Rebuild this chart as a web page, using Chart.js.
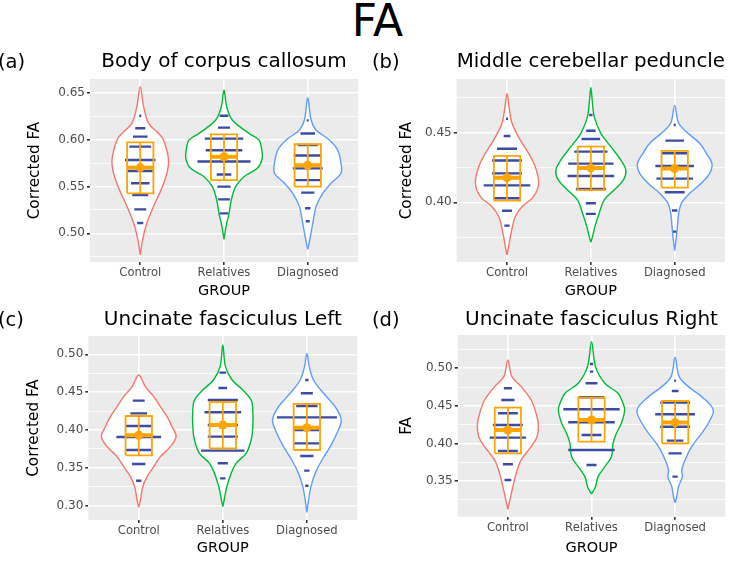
<!DOCTYPE html>
<html>
<head>
<meta charset="utf-8">
<script src="https://cdn.jsdelivr.net/npm/chart.js@4.4.1/dist/chart.umd.min.js"></script>
<style>
  body { margin: 0; background: #fff; font-family: 'DejaVu Sans', sans-serif; }
  #page { position: relative; width: 733px; height: 561px; overflow: hidden; }
  .panel { position: absolute; width: 366px; height: 260px; }
  .tag { position: absolute; font-size: 19.5px; line-height: 20px; color: #000; }
  #main { position: absolute; left: 0; top: -1px; width: 755px; text-align: center; font-size: 44px; line-height: 44px; }
</style>
</head>
<body>
<div id="page">
  <div id="main">FA</div>
  <div class="panel" style="left:0;top:40px"><canvas id="pa" width="366" height="260"></canvas></div>
  <div class="panel" style="left:366px;top:40px"><canvas id="pb" width="366" height="260"></canvas></div>
  <div class="panel" style="left:0;top:300px"><canvas id="pc" width="366" height="260"></canvas></div>
  <div class="panel" style="left:366px;top:300px"><canvas id="pd" width="366" height="260"></canvas></div>
  <div class="tag" style="left:-2px;top:52px">(a)</div>
  <div class="tag" style="left:372px;top:52px">(b)</div>
  <div class="tag" style="left:-2px;top:310px">(c)</div>
  <div class="tag" style="left:372px;top:310px">(d)</div>
</div>
<script>
const groups = ['Control', 'Relatives', 'Diagnosed'];
const groupColours = ['#F8766D', '#00BA38', '#619CFF'];

// (a) Body of corpus callosum
const ccTicks = [0.50, 0.55, 0.60, 0.65];
const ccViolinControl = [[0.477,0],[0.493,0.028],[0.511,0.079],[0.529,0.159],[0.546,0.246],[0.564,0.317],[0.579,0.337],[0.600,0.278],[0.607,0.218],[0.618,0.099],[0.636,0.040],[0.657,0]];
const ccViolinRelatives = [[0.4936,0],[0.507,0.024],[0.5215,0.06],[0.5357,0.087],[0.55,0.139],[0.5607,0.238],[0.5696,0.397],[0.5804,0.456],[0.5929,0.444],[0.600,0.417],[0.6071,0.298],[0.6214,0.099],[0.6357,0.032],[0.6536,0]];
const ccViolinDiagnosed = [[0.4829,0],[0.4929,0.024],[0.5107,0.06],[0.5286,0.099],[0.5429,0.179],[0.5536,0.278],[0.5643,0.397],[0.575,0.397],[0.5893,0.357],[0.600,0.258],[0.6107,0.099],[0.6214,0.04],[0.6454,0]];
const ccDotsControl = [[0.626,0.012],[0.6125,0.06],[0.6036,0.087],[0.5929,0.13],[0.5786,0.182],[0.5668,0.15],[0.5536,0.111],[0.5411,0.095],[0.5257,0.071],[0.511,0.036]];
const ccDotsRelatives = [[0.626,0.052],[0.6132,0.071],[0.6014,0.23],[0.589,0.218],[0.577,0.317],[0.563,0.087],[0.550,0.079],[0.5364,0.071],[0.5214,0.052]];
const ccDotsDiagnosed = [[0.621,0.012],[0.607,0.087],[0.5946,0.119],[0.5833,0.167],[0.5696,0.179],[0.557,0.159],[0.5436,0.079],[0.5268,0.032],[0.513,0.024]];
const ccBoxLow = [0.5429, 0.557, 0.55];
const ccBoxHigh = [0.5975, 0.606, 0.5954];
const ccMean = [0.5704, 0.582, 0.5729];

// (b) Middle cerebellar peduncle
const mcpTicks = [0.40, 0.45];
const mcpViolinControl = [[0.3623,0],[0.3683,0.02],[0.3778,0.048],[0.3898,0.099],[0.3969,0.179],[0.4041,0.317],[0.4137,0.377],[0.4256,0.337],[0.4352,0.258],[0.4447,0.159],[0.4567,0.06],[0.4686,0.024],[0.4782,0]];
const mcpViolinRelatives = [[0.3714,0],[0.3754,0.02],[0.3826,0.048],[0.3922,0.099],[0.4017,0.159],[0.4089,0.278],[0.4161,0.389],[0.4232,0.417],[0.4304,0.357],[0.44,0.238],[0.4495,0.119],[0.4615,0.04],[0.4734,0.016],[0.4825,0]];
const mcpViolinDiagnosed = [[0.3654,0],[0.373,0.016],[0.3826,0.032],[0.3922,0.048],[0.3993,0.079],[0.4065,0.179],[0.4137,0.317],[0.4208,0.417],[0.428,0.444],[0.4352,0.377],[0.4424,0.298],[0.4495,0.159],[0.4567,0.048],[0.4696,0]];
const mcpDotsControl = [[0.460,0.012],[0.4476,0.04],[0.4385,0.119],[0.430,0.179],[0.4208,0.179],[0.4122,0.278],[0.4029,0.159],[0.394,0.06],[0.3833,0.032]];
const mcpDotsRelatives = [[0.4627,0.02],[0.4514,0.056],[0.4455,0.111],[0.4364,0.198],[0.4278,0.27],[0.4189,0.278],[0.4096,0.179],[0.3993,0.06],[0.3917,0.06]];
const mcpDotsDiagnosed = [[0.4555,0.012],[0.4443,0.111],[0.4352,0.151],[0.4261,0.23],[0.417,0.218],[0.4072,0.119],[0.3941,0.032],[0.379,0.02]];
const mcpBoxLow = [0.4012, 0.4087, 0.4106];
const mcpBoxHigh = [0.4333, 0.44, 0.4369];
const mcpMean = [0.4177, 0.4247, 0.4242];

// (c) Uncinate fasciculus Left
const ufLTicks = [0.30, 0.35, 0.40, 0.45, 0.50];
const ufLViolinControl = [[0.2978,0],[0.3075,0.02],[0.3251,0.048],[0.3383,0.099],[0.3516,0.179],[0.3648,0.258],[0.378,0.377],[0.3912,0.444],[0.4044,0.397],[0.4176,0.337],[0.4308,0.258],[0.4441,0.179],[0.4573,0.079],[0.4661,0.04],[0.4727,0]];
const ufLViolinRelatives = [[0.2987,0],[0.3075,0.016],[0.3251,0.048],[0.3427,0.099],[0.356,0.159],[0.3692,0.278],[0.3868,0.337],[0.4044,0.357],[0.4264,0.357],[0.4397,0.337],[0.4529,0.238],[0.4661,0.111],[0.4837,0.032],[0.5123,0]];
const ufLViolinDiagnosed = [[0.2912,0],[0.3075,0.02],[0.3251,0.048],[0.3427,0.099],[0.3604,0.179],[0.378,0.278],[0.3956,0.357],[0.4132,0.409],[0.4308,0.337],[0.4485,0.198],[0.4661,0.079],[0.4837,0.028],[0.5013,0]];
const ufLDotsControl = [[0.4388,0.071],[0.422,0.099],[0.4053,0.159],[0.3908,0.266],[0.3736,0.151],[0.3551,0.079],[0.333,0.032]];
const ufLDotsRelatives = [[0.4758,0.04],[0.4555,0.052],[0.4397,0.179],[0.4234,0.218],[0.4066,0.179],[0.3912,0.179],[0.3727,0.258],[0.356,0.06],[0.3361,0.032]];
const ufLDotsDiagnosed = [[0.4661,0.02],[0.4485,0.071],[0.4317,0.127],[0.4167,0.357],[0.40,0.151],[0.3824,0.151],[0.3656,0.079],[0.3463,0.032],[0.3264,0.02]];
const ufLBoxLow = [0.3665, 0.3758, 0.3736];
const ufLBoxHigh = [0.4185, 0.437, 0.4344];
const ufLMean = [0.393, 0.4066, 0.4031];

// (d) Uncinate fasciculus Right
const ufRTicks = [0.35, 0.40, 0.45, 0.50];
const ufRViolinControl = [[0.3123,0],[0.3247,0.024],[0.3425,0.06],[0.3602,0.099],[0.378,0.159],[0.3957,0.278],[0.409,0.349],[0.4246,0.365],[0.4401,0.337],[0.4578,0.278],[0.4756,0.159],[0.4889,0.048],[0.5111,0]];
const ufRViolinRelatives = [[0.3327,0],[0.3425,0.048],[0.3558,0.079],[0.3691,0.159],[0.3824,0.238],[0.4001,0.258],[0.4135,0.298],[0.4268,0.357],[0.4445,0.397],[0.4534,0.377],[0.4667,0.317],[0.48,0.159],[0.5022,0.048],[0.5355,0]];
const ufRViolinDiagnosed = [[0.3211,0],[0.3291,0.02],[0.3425,0.04],[0.3558,0.087],[0.3646,0.079],[0.378,0.119],[0.3957,0.198],[0.4135,0.317],[0.4268,0.397],[0.4445,0.456],[0.4623,0.317],[0.4756,0.159],[0.4889,0.048],[0.5146,0]];
const ufRDotsControl = [[0.4734,0.048],[0.4578,0.079],[0.4401,0.119],[0.4246,0.179],[0.4077,0.218],[0.39,0.119],[0.3722,0.06],[0.3513,0.04]];
const ufRDotsRelatives = [[0.5058,0.02],[0.4956,0.02],[0.48,0.071],[0.4614,0.151],[0.4454,0.337],[0.4281,0.278],[0.4112,0.119],[0.3913,0.278],[0.3713,0.06]];
const ufRDotsDiagnosed = [[0.4836,0.012],[0.4698,0.04],[0.4543,0.179],[0.4388,0.238],[0.4223,0.179],[0.4037,0.099],[0.3868,0.079],[0.3558,0.032]];
const ufRBoxLow = [0.3868, 0.4024, 0.4001];
const ufRBoxHigh = [0.4476, 0.4609, 0.4565];
const ufRMean = [0.4179, 0.4312, 0.4277];

const ORANGE = '#FFA500';
const DOT_BLUE = '#3C4CA4';
const BOX_HW = 0.157;
Chart.defaults.font.family = "'DejaVu Sans', sans-serif";

// grey ggplot panel
const panelBg = {
  id: 'panelBg',
  beforeDraw(chart) {
    const { ctx, chartArea: a } = chart;
    ctx.save();
    ctx.fillStyle = '#EBEBEB';
    ctx.fillRect(a.left, a.top, a.width, a.height);
    ctx.restore();
  }
};

function yTickList(major, min, max) {
  const step = major[1] - major[0];
  const out = major.map(v => ({ value: v, minor: false }));
  for (let i = -1; i < major.length; i++) {
    const m = major[0] + (i + 0.5) * step;
    if (m > min && m < max) out.push({ value: m, minor: true });
  }
  return out.sort((a, b) => a.value - b.value);
}

function makePanel(p) {
  const datasets = [];
  groups.forEach((g, i) => {
    const c = i + 1;
    const lo = p.low[i], hi = p.high[i], m = p.mean[i];
    datasets.push({ data: [{ x: c, y: m }], showLine: false, pointRadius: 4.5, pointBackgroundColor: ORANGE, pointBorderWidth: 0, order: 0 });
    datasets.push({ data: [{ x: c - BOX_HW, y: m }, { x: c + BOX_HW, y: m }], borderColor: ORANGE, borderWidth: 4, pointRadius: 0, order: 1 });
    datasets.push({
      data: [{ x: c - BOX_HW, y: lo }, { x: c + BOX_HW, y: lo }, { x: c + BOX_HW, y: hi }, { x: c - BOX_HW, y: hi }, { x: c - BOX_HW, y: lo },
             { x: c, y: null }, { x: c, y: lo }, { x: c, y: hi }],
      borderColor: ORANGE, borderWidth: 1.8, borderJoinStyle: 'miter', pointRadius: 0, order: 1
    });
    const d = [];
    p.dots[i].forEach(([y, w]) => { d.push({ x: c - w, y }, { x: c + w, y }, { x: c, y: null }); });
    datasets.push({ data: d, borderColor: DOT_BLUE, borderWidth: 2.4, pointRadius: 0, order: 2 });
    const prof = p.violins[i];
    const v = prof.map(([y, w]) => ({ x: c - w, y }));
    for (let k = prof.length - 2; k >= 0; k--) v.push({ x: c + prof[k][1], y: prof[k][0] });
    datasets.push({ data: v, borderColor: groupColours[i], backgroundColor: '#FFFFFF', fill: 'shape', borderWidth: 1.4, tension: 0.35, pointRadius: 0, order: 3 });
  });

  new Chart(document.getElementById(p.id), {
    type: 'line',
    data: { datasets },
    plugins: [panelBg],
    options: {
      responsive: false,
      animation: false,
      layout: { padding: { left: 0, right: p.padRight, top: 0, bottom: 0 } },
      plugins: {
        legend: { display: false },
        tooltip: { enabled: false },
        title: { display: true, text: p.title, fullSize: false, color: '#000', font: { size: 20, weight: 'normal' }, padding: { top: p.tTop, bottom: p.tBot } }
      },
      scales: {
        x: {
          type: 'linear', min: 0.4, max: 3.6,
          afterBuildTicks: s => { s.ticks = groups.map((g, i) => ({ value: i + 1 })); },
          afterFit: s => { s.height = p.xHeight; },
          border: { display: false },
          grid: { color: '#FFFFFF', lineWidth: 1.6, tickColor: '#333333', tickLength: 3 },
          ticks: { callback: v => groups[Math.round(v) - 1], color: '#4D4D4D', font: { size: 11.6 }, padding: 1, autoSkip: false, maxRotation: 0 },
          title: { display: true, text: 'GROUP', color: '#000', font: { size: 14.5 }, padding: { top: 0, bottom: p.xTitlePad } }
        },
        y: {
          min: p.min, max: p.max,
          afterBuildTicks: s => { s.ticks = yTickList(p.ticks, p.min, p.max); },
          afterFit: s => { s.width = p.yWidth; },
          border: { display: false },
          grid: {
            color: '#FFFFFF',
            lineWidth: c => (c.tick && c.tick.minor ? 0.8 : 1.6),
            tickColor: c => (c.tick && c.tick.minor ? 'rgba(0,0,0,0)' : '#333333'),
            tickLength: 3
          },
          ticks: { callback: (v, i, t) => (t[i].minor ? '' : v.toFixed(2)), color: '#4D4D4D', font: { size: 12 }, padding: 2, autoSkip: false },
          title: { display: true, text: p.yTitle, color: '#000', font: { size: 15.3 }, padding: { top: p.yTitlePad, bottom: 0 } }
        }
      }
    }
  });
}

makePanel({ id: 'pa', title: 'Body of corpus callosum', yTitle: 'Corrected FA', min: 0.4693, max: 0.6653, ticks: ccTicks,
  violins: [ccViolinControl, ccViolinRelatives, ccViolinDiagnosed], dots: [ccDotsControl, ccDotsRelatives, ccDotsDiagnosed],
  low: ccBoxLow, high: ccBoxHigh, mean: ccMean,
  yWidth: 90, padRight: 8, tTop: 10, tBot: 5, xHeight: 38, xTitlePad: 0, yTitlePad: 25.8 });
makePanel({ id: 'pb', title: 'Middle cerebellar peduncle', yTitle: 'Corrected FA', min: 0.3572, max: 0.4885, ticks: mcpTicks,
  violins: [mcpViolinControl, mcpViolinRelatives, mcpViolinDiagnosed], dots: [mcpDotsControl, mcpDotsRelatives, mcpDotsDiagnosed],
  low: mcpBoxLow, high: mcpBoxHigh, mean: mcpMean,
  yWidth: 90.7, padRight: 7, tTop: 10, tBot: 5, xHeight: 38, xTitlePad: 0, yTitlePad: 31.5 });
makePanel({ id: 'pc', title: 'Uncinate fasciculus Left', yTitle: 'Corrected FA', min: 0.2811, max: 0.5242, ticks: ufLTicks,
  violins: [ufLViolinControl, ufLViolinRelatives, ufLViolinDiagnosed], dots: [ufLDotsControl, ufLDotsRelatives, ufLDotsDiagnosed],
  low: ufLBoxLow, high: ufLBoxHigh, mean: ufLMean,
  yWidth: 88.3, padRight: 8.7, tTop: 8, tBot: 4, xHeight: 40, xTitlePad: 3.3, yTitlePad: 25 });
makePanel({ id: 'pd', title: 'Uncinate fasciculus Right', yTitle: 'FA', min: 0.3025, max: 0.5443, ticks: ufRTicks,
  violins: [ufRViolinControl, ufRViolinRelatives, ufRViolinDiagnosed], dots: [ufRDotsControl, ufRDotsRelatives, ufRDotsDiagnosed],
  low: ufRBoxLow, high: ufRBoxHigh, mean: ufRMean,
  yWidth: 91.7, padRight: 6.7, tTop: 8, tBot: 3, xHeight: 43.3, xTitlePad: 3.3, yTitlePad: 31.6 });
</script>
</body>
</html>
